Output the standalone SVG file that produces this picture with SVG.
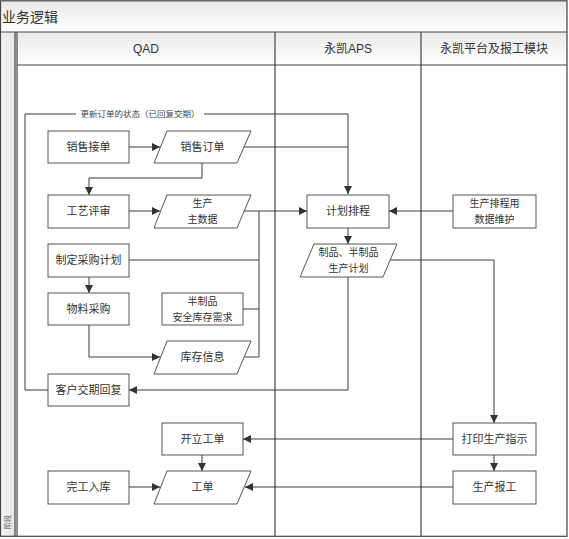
<svg xmlns="http://www.w3.org/2000/svg" width="569" height="539" viewBox="0 0 569 539">
<defs>
<linearGradient id="hg" x1="0" y1="0" x2="0" y2="1"><stop offset="0" stop-color="#e9e9e9"/><stop offset="1" stop-color="#ffffff"/></linearGradient>
<linearGradient id="sg" x1="0" y1="0" x2="1" y2="0"><stop offset="0" stop-color="#f4f4f4"/><stop offset="1" stop-color="#e4e4e4"/></linearGradient>
<marker id="ar" viewBox="0 0 10 10" refX="10" refY="5" markerWidth="8" markerHeight="8" markerUnits="userSpaceOnUse" orient="auto"><path d="M0,0 L10,5 L0,10 z" fill="#333"/></marker>
<style>
.frame{fill:none;stroke:#444;stroke-width:1.2}
.box{fill:#fff;stroke:#555;stroke-width:1}
.t{font-family:"Noto Sans CJK SC","Liberation Serif",serif;font-size:11px;fill:#333;text-anchor:middle}
.t2{font-family:"Noto Sans CJK SC","Liberation Serif",serif;font-size:10px;fill:#333;text-anchor:middle}
.h{font-family:"Liberation Sans","Noto Sans CJK SC",sans-serif;font-size:12px;fill:#333;text-anchor:middle}
.c{fill:none;stroke:#3a3a3a;stroke-width:1}
</style>
</defs>
<rect x="0" y="0" width="569" height="539" fill="#fff"/>
<rect x="0.5" y="1" width="566.5" height="31" fill="url(#hg)"/>
<text x="2" y="22" font-family="Noto Sans CJK SC,sans-serif" font-size="14" fill="#333">业务逻辑</text>
<rect x="0.5" y="32" width="15" height="504" fill="url(#sg)"/>
<text transform="translate(10,522) rotate(-90)" font-family="Noto Sans CJK SC,sans-serif" font-size="7" fill="#555" text-anchor="middle">阶段</text>
<rect x="17" y="32" width="550" height="33" fill="url(#hg)"/>
<g id="lanes">
<rect class="frame" x="0.5" y="0.8" width="566.5" height="535.5"/>
<line class="frame" x1="0.5" y1="32" x2="567" y2="32"/>
<line class="frame" x1="15" y1="32" x2="15" y2="536"/>
<line class="frame" x1="17" y1="32" x2="17" y2="536"/>
<line class="frame" x1="17" y1="65" x2="567" y2="65"/>
<line class="frame" x1="275" y1="32" x2="275" y2="536"/>
<line class="frame" x1="421" y1="32" x2="421" y2="536"/>
<text class="h" x="146" y="53">QAD</text>
<text class="h" x="348" y="53">永凯APS</text>
<text class="h" x="494" y="53">永凯平台及报工模块</text>
</g>
<g id="connectors">
<path class="c" d="M48,390 H25 V114 H348 V194" marker-end="url(#ar)"/>
<rect x="76" y="108" width="128" height="12" fill="#fff"/>
<text x="140" y="117" font-family="Noto Sans CJK SC,sans-serif" font-size="8.5" fill="#444" text-anchor="middle">更新订单的状态（已回复交期）</text>
<path class="c" d="M129,147 H160" marker-end="url(#ar)"/>
<path class="c" d="M244,147 H348"/>
<path class="c" d="M202,163 V178 H89 V195" marker-end="url(#ar)"/>
<path class="c" d="M129,211 H160" marker-end="url(#ar)"/>
<path class="c" d="M244,211 H307" marker-end="url(#ar)"/>
<path class="c" d="M129,260 H259 M243,309 H259 M245,357 H259 M259,211 V357"/>
<path class="c" d="M89,277 V293" marker-end="url(#ar)"/>
<path class="c" d="M89,325 V357 H160" marker-end="url(#ar)"/>
<path class="c" d="M453,211 H389" marker-end="url(#ar)"/>
<path class="c" d="M348,228 V244" marker-end="url(#ar)"/>
<path class="c" d="M390,260 H494 V423" marker-end="url(#ar)"/>
<path class="c" d="M348,277 V390 H129" marker-end="url(#ar)"/>
<path class="c" d="M453,439 H243" marker-end="url(#ar)"/>
<path class="c" d="M494,455 V471" marker-end="url(#ar)"/>
<path class="c" d="M453,487 H245" marker-end="url(#ar)"/>
<path class="c" d="M202,455 V471" marker-end="url(#ar)"/>
<path class="c" d="M129,487 H160" marker-end="url(#ar)"/>
</g>
<g id="n1"><rect class="box" x="48" y="131" width="81" height="32"/><text class="t" x="88.5" y="151">销售接单</text></g>
<g id="n2"><polygon class="box" points="167,131 251,131 237,163 154,163"/><text class="t" x="202.5" y="151">销售订单</text></g>
<g id="n3"><rect class="box" x="48" y="195" width="81" height="33"/><text class="t" x="88.5" y="215">工艺评审</text></g>
<g id="n4"><polygon class="box" points="167,195 251,195 237,228 154,228"/><text class="t2" x="202.5" y="207">生产</text><text class="t2" x="202.5" y="223">主数据</text></g>
<g id="n5"><rect class="box" x="48" y="244" width="81" height="33"/><text class="t" x="88.5" y="264">制定采购计划</text></g>
<g id="n6"><rect class="box" x="48" y="293" width="81" height="32"/><text class="t" x="88.5" y="313">物料采购</text></g>
<g id="n7"><rect class="box" x="162" y="293" width="81" height="32"/><text class="t2" x="202.5" y="305">半制品</text><text class="t2" x="202.5" y="321">安全库存需求</text></g>
<g id="n8"><polygon class="box" points="167,341 251,341 237,374 154,374"/><text class="t" x="202.5" y="361">库存信息</text></g>
<g id="n9"><rect class="box" x="48" y="374" width="81" height="32"/><text class="t" x="88.5" y="394">客户交期回复</text></g>
<g id="n10"><rect class="box" x="162" y="423" width="81" height="32"/><text class="t" x="202.5" y="443">开立工单</text></g>
<g id="n11"><rect class="box" x="48" y="471" width="81" height="33"/><text class="t" x="88.5" y="491">完工入库</text></g>
<g id="n12"><polygon class="box" points="167,471 251,471 237,504 154,504"/><text class="t" x="202.5" y="491">工单</text></g>
<g id="n13"><rect class="box" x="307" y="195" width="82" height="33"/><text class="t" x="348" y="215">计划排程</text></g>
<g id="n14"><rect class="box" x="453" y="195" width="83" height="33"/><text class="t2" x="494.5" y="207">生产排程用</text><text class="t2" x="494.5" y="223">数据维护</text></g>
<g id="n15"><polygon class="box" points="314,244 397,244 383,277 300,277"/><text class="t2" x="348.5" y="256">制品、半制品</text><text class="t2" x="348.5" y="272">生产计划</text></g>
<g id="n16"><rect class="box" x="453" y="423" width="83" height="32"/><text class="t" x="494.5" y="443">打印生产指示</text></g>
<g id="n17"><rect class="box" x="453" y="471" width="83" height="33"/><text class="t" x="494.5" y="491">生产报工</text></g>
</svg>
